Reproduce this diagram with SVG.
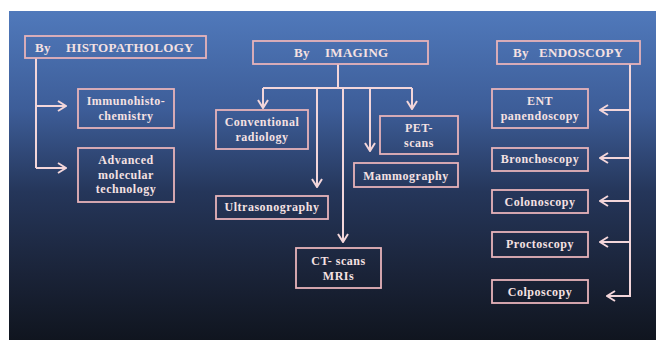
<svg xmlns="http://www.w3.org/2000/svg" width="656" height="340" viewBox="0 0 656 340">
<defs>
<linearGradient id="bg" x1="0" y1="0" x2="0" y2="1">
<stop offset="0" stop-color="#5079bb"/>
<stop offset="0.3" stop-color="#3d5d98"/>
<stop offset="0.55" stop-color="#25365a"/>
<stop offset="0.8" stop-color="#1a2338"/>
<stop offset="1" stop-color="#10151f"/>
</linearGradient>
<marker id="arr" viewBox="0 0 10 12" refX="9" refY="6" markerWidth="10" markerHeight="12" markerUnits="userSpaceOnUse" orient="auto">
<path d="M1,1 L9,6 L1,11" fill="none" stroke="#f3d6da" stroke-width="2"/>
</marker>
<style>
.box{fill:none;stroke:#e7b3ba;stroke-width:1.8}
.t{font-family:"Liberation Serif","Times New Roman",serif;font-weight:bold;font-size:12px;fill:#f5e1e2;text-anchor:middle;letter-spacing:0.5px}
.h{font-family:"Liberation Serif","Times New Roman",serif;font-weight:bold;font-size:13px;fill:#f5e1e2;letter-spacing:0.3px}
.ln{fill:none;stroke:#f3d6da;stroke-width:2}
</style>
</defs>
<rect x="9" y="11" width="647" height="329" fill="url(#bg)"/>

<g id="connectors">
<path class="ln" d="M36,58 V168"/>
<path class="ln" d="M36,106 H66" marker-end="url(#arr)"/>
<path class="ln" d="M36,168 H66" marker-end="url(#arr)"/>
<path class="ln" d="M338,64 V88"/>
<path class="ln" d="M263,88 H412"/>
<path class="ln" d="M263,88 V108" marker-end="url(#arr)"/>
<path class="ln" d="M317,88 V187" marker-end="url(#arr)"/>
<path class="ln" d="M343,88 V242" marker-end="url(#arr)"/>
<path class="ln" d="M370,88 V151" marker-end="url(#arr)"/>
<path class="ln" d="M412,88 V109" marker-end="url(#arr)"/>
<path class="ln" d="M630,64 V296 H607" marker-end="url(#arr)"/>
<path class="ln" d="M630,110 H600" marker-end="url(#arr)"/>
<path class="ln" d="M630,158 H600" marker-end="url(#arr)"/>
<path class="ln" d="M630,201 H600" marker-end="url(#arr)"/>
<path class="ln" d="M630,242 H600" marker-end="url(#arr)"/>
</g>

<g id="histopathology">
<rect class="box" x="25" y="36" width="181" height="22"/>
<text class="h" y="52"><tspan x="35">By</tspan><tspan x="66">HISTOPATHOLOGY</tspan></text>
</g>
<g id="immunohistochemistry">
<rect class="box" x="78" y="89" width="96" height="39"/>
<text class="t" x="126" y="105">Immunohisto-</text>
<text class="t" x="126" y="120">chemistry</text>
</g>
<g id="advanced">
<rect class="box" x="78" y="148" width="96" height="54"/>
<text class="t" x="126" y="164">Advanced</text>
<text class="t" x="126" y="178.5">molecular</text>
<text class="t" x="126" y="193">technology</text>
</g>

<g id="imaging">
<rect class="box" x="253" y="41" width="175" height="23"/>
<text class="h" y="57"><tspan x="294">By</tspan><tspan x="325">IMAGING</tspan></text>
</g>
<g id="conventional">
<rect class="box" x="216" y="110" width="92" height="39"/>
<text class="t" x="262" y="126">Conventional</text>
<text class="t" x="262" y="141">radiology</text>
</g>
<g id="pet">
<rect class="box" x="380" y="116" width="78" height="38"/>
<text class="t" x="419" y="132">PET-</text>
<text class="t" x="419" y="147">scans</text>
</g>
<g id="mammography">
<rect class="box" x="354" y="163" width="104" height="24"/>
<text class="t" x="406" y="180">Mammography</text>
</g>
<g id="ultrasonography">
<rect class="box" x="216" y="196" width="112" height="23"/>
<text class="t" x="272" y="211">Ultrasonography</text>
</g>
<g id="ct">
<rect class="box" x="296" y="248" width="85" height="40"/>
<text class="t" x="338.5" y="265">CT- scans</text>
<text class="t" x="338.5" y="280">MRIs</text>
</g>

<g id="endoscopy">
<rect class="box" x="497" y="41" width="143" height="23"/>
<text class="h" y="57"><tspan x="513">By</tspan><tspan x="539">ENDOSCOPY</tspan></text>
</g>
<g id="ent">
<rect class="box" x="492" y="89" width="96" height="39"/>
<text class="t" x="540" y="105">ENT</text>
<text class="t" x="540" y="120">panendoscopy</text>
</g>
<g id="bronchoscopy">
<rect class="box" x="492" y="148" width="96" height="23"/>
<text class="t" x="540" y="163">Bronchoscopy</text>
</g>
<g id="colonoscopy">
<rect class="box" x="492" y="190" width="96" height="23"/>
<text class="t" x="540" y="206">Colonoscopy</text>
</g>
<g id="proctoscopy">
<rect class="box" x="492" y="232" width="96" height="25"/>
<text class="t" x="540" y="248">Proctoscopy</text>
</g>
<g id="colposcopy">
<rect class="box" x="492" y="280" width="96" height="23"/>
<text class="t" x="540" y="296">Colposcopy</text>
</g>
</svg>
